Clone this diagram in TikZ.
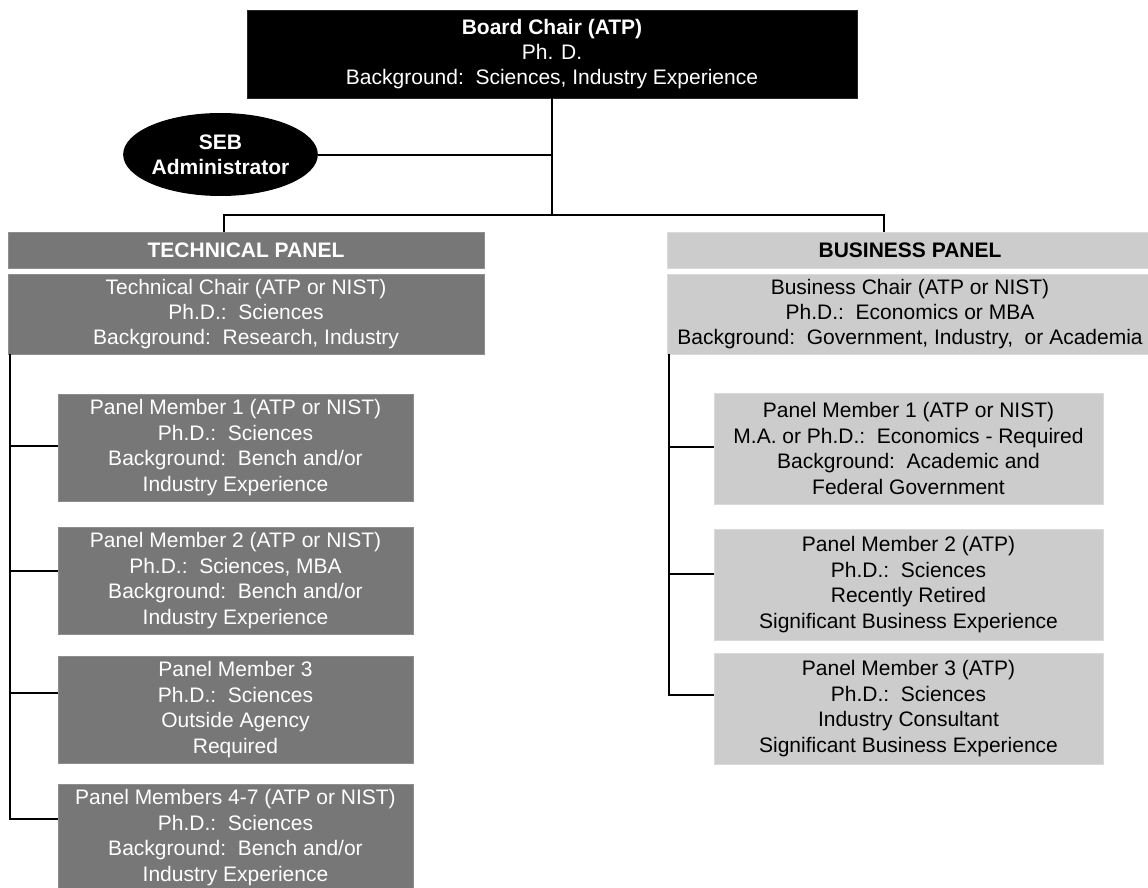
\documentclass[tikz,border=0pt]{standalone}
\usepackage{fontspec}
\setmainfont{Liberation Sans}
\usetikzlibrary{shapes.geometric,calc}
\definecolor{boxdark}{HTML}{777777}
\definecolor{boxdarkedge}{HTML}{8E8E8E}
\definecolor{boxlight}{HTML}{CCCCCC}
\definecolor{boxlightedge}{HTML}{DADADA}
\begin{document}
\begin{tikzpicture}[x=1pt,y=-1pt,
  base/.style={inner sep=0pt, align=center, font=\fontsize{21}{25.4}\selectfont},
  blackbox/.style={base, rectangle, fill=black, draw=black!85, line width=0.8pt, text=white},
  sebbox/.style={base, ellipse, fill=black, text=white, font=\fontsize{21}{25.4}\selectfont\bfseries},
  darkbox/.style={base, rectangle, fill=boxdark, draw=boxdarkedge, line width=0.8pt, text=white},
  lightbox/.style={base, rectangle, fill=boxlight, draw=boxlightedge, line width=0.8pt, text=black},
  conn/.style={line width=2pt, draw=black}
]
\useasboundingbox (0,0) rectangle (1148,888);

% top
\node[blackbox, minimum width=610pt, minimum height=88pt] (board) at (552,54)
  {\textbf{Board Chair (ATP)}\\Ph. D.\\Background:\ \ Sciences, Industry Experience};
\node[sebbox, minimum width=175pt, minimum height=83pt] (seb) at (220.5,154.5)
  {SEB\\Administrator};

% technical panel
\node[darkbox, minimum width=476pt, minimum height=36pt] (techhead) at (246,250)
  {\textbf{TECHNICAL PANEL}};
\node[darkbox, minimum width=476pt, minimum height=80pt] (techchair) at (246,314)
  {Technical Chair (ATP or NIST)\\Ph.D.:\ \ Sciences\\Background:\ \ Research, Industry};
\node[darkbox, minimum width=355pt, minimum height=107pt] (tpm1) at (235.5,447.5)
  {Panel Member 1 (ATP or NIST)\\Ph.D.:\ \ Sciences\\Background:\ \ Bench and/or\\Industry Experience};
\node[darkbox, minimum width=355pt, minimum height=107pt] (tpm2) at (235.5,580.5)
  {Panel Member 2 (ATP or NIST)\\Ph.D.:\ \ Sciences, MBA\\Background:\ \ Bench and/or\\Industry Experience};
\node[darkbox, minimum width=355pt, minimum height=107pt] (tpm3) at (235.5,709.5)
  {Panel Member 3\\Ph.D.:\ \ Sciences\\Outside Agency\\Required};
\node[darkbox, minimum width=355pt, minimum height=107pt] (tpm4) at (235.5,837.5)
  {Panel Members 4-7 (ATP or NIST)\\Ph.D.:\ \ Sciences\\Background:\ \ Bench and/or\\Industry Experience};

% business panel
\node[lightbox, minimum width=486pt, minimum height=36pt] (bushead) at (910,250)
  {\textbf{BUSINESS PANEL}};
\node[lightbox, minimum width=486pt, minimum height=80pt] (buschair) at (910,314)
  {Business Chair (ATP or NIST)\\Ph.D.:\ \ Economics or MBA\\Background:\ \ Government, Industry,\ \ or Academia};
\node[lightbox, minimum width=389pt, minimum height=111pt] (bpm1) at (908.5,448.5)
  {Panel Member 1 (ATP or NIST)\\M.A. or Ph.D.:\ \ Economics - Required\\Background:\ \ Academic and\\Federal Government};
\node[lightbox, minimum width=389pt, minimum height=111pt] (bpm2) at (908.5,584.5)
  {Panel Member 2 (ATP)\\Ph.D.:\ \ Sciences\\Recently Retired\\Significant Business Experience};
\node[lightbox, minimum width=389pt, minimum height=111pt] (bpm3) at (908.5,708.5)
  {Panel Member 3 (ATP)\\Ph.D.:\ \ Sciences\\Industry Consultant\\Significant Business Experience};

% connectors: top
\path (board.south) ++(0,117) coordinate (hub);
\draw[conn] (board.south) -- (hub);
\draw[conn] (seb.east) -- (seb.east -| hub);
\coordinate (tdrop) at (224,215);
\coordinate (bdrop) at (884,215);
\draw[conn] (tdrop |- techhead.north) -- (tdrop) -- (bdrop) -- (bdrop |- bushead.north);

% connectors: technical spine
\coordinate (tsp) at (10,0);
\coordinate (t1) at ($(tpm1.north west)+(0,52)$);
\coordinate (t2) at ($(tpm2.north west)+(0,44)$);
\coordinate (t3) at ($(tpm3.north west)+(0,37)$);
\coordinate (t4) at ($(tpm4.north west)+(0,35)$);
\draw[conn] (tsp |- techchair.south) -- (tsp |- t4) -- (t4);
\draw[conn] (tsp |- t1) -- (t1);
\draw[conn] (tsp |- t2) -- (t2);
\draw[conn] (tsp |- t3) -- (t3);

% connectors: business spine
\coordinate (bsp) at (669,0);
\coordinate (b1) at ($(bpm1.north west)+(0,54)$);
\coordinate (b2) at ($(bpm2.north west)+(0,45)$);
\coordinate (b3) at ($(bpm3.north west)+(0,42)$);
\draw[conn] (bsp |- buschair.south) -- (bsp |- b3) -- (b3);
\draw[conn] (bsp |- b1) -- (b1);
\draw[conn] (bsp |- b2) -- (b2);
\end{tikzpicture}
\end{document}
